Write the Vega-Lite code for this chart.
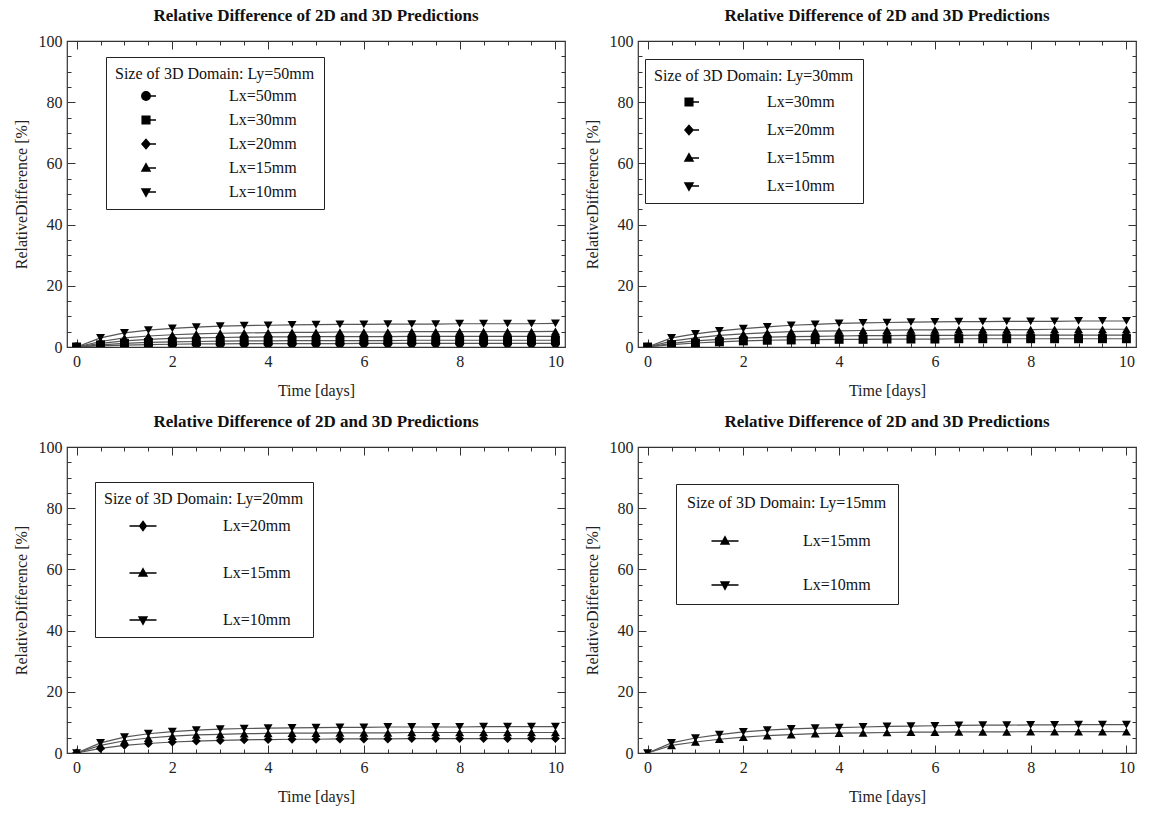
{
"$schema":"https://vega.github.io/schema/vega-lite/v6.json",
"background":"white",
"padding":{"left":12,"top":6,"right":5,"bottom":5},
"columns":2,
"spacing":{"column":73,"row":100},
"bounds":"flush",
"config":{
 "font":"Liberation Serif",
 "view":{"stroke":"#333","strokeWidth":1.2},
 "axis":{"labelFont":"Liberation Serif","labelFontSize":16,"labelColor":"#222","titleFont":"Liberation Serif","titleFontSize":16,"titleFontWeight":"normal","titleColor":"#222","domain":false,"grid":false,"tickColor":"#333","tickWidth":1,"labelOverlap":false,"labelFlush":false},
 "title":{"font":"Liberation Serif","fontSize":17,"fontWeight":"bold","color":"#111","offset":8},
 "legend":{"labelFont":"Liberation Serif","titleFont":"Liberation Serif","labelFontSize":16,"titleFontSize":16,"titleFontWeight":"normal","titleColor":"#111","labelColor":"#111","strokeColor":"#222","fillColor":"white","padding":9,"titleLimit":400,"labelLimit":300}
},
"datasets":{
"p1":[
{"t":0,"v":0,"s":"Lx=50mm"},{"t":0.5,"v":0.4,"s":"Lx=50mm"},{"t":1,"v":0.6,"s":"Lx=50mm"},{"t":1.5,"v":0.8,"s":"Lx=50mm"},{"t":2,"v":0.9,"s":"Lx=50mm"},{"t":2.5,"v":1.0,"s":"Lx=50mm"},{"t":3,"v":1.0,"s":"Lx=50mm"},{"t":3.5,"v":1.1,"s":"Lx=50mm"},{"t":4,"v":1.1,"s":"Lx=50mm"},{"t":4.5,"v":1.1,"s":"Lx=50mm"},{"t":5,"v":1.1,"s":"Lx=50mm"},{"t":5.5,"v":1.1,"s":"Lx=50mm"},{"t":6,"v":1.2,"s":"Lx=50mm"},{"t":6.5,"v":1.2,"s":"Lx=50mm"},{"t":7,"v":1.2,"s":"Lx=50mm"},{"t":7.5,"v":1.2,"s":"Lx=50mm"},{"t":8,"v":1.2,"s":"Lx=50mm"},{"t":8.5,"v":1.2,"s":"Lx=50mm"},{"t":9,"v":1.2,"s":"Lx=50mm"},{"t":9.5,"v":1.2,"s":"Lx=50mm"},{"t":10,"v":1.2,"s":"Lx=50mm"},
{"t":0,"v":0,"s":"Lx=30mm"},{"t":0.5,"v":0.7,"s":"Lx=30mm"},{"t":1,"v":1.2,"s":"Lx=30mm"},{"t":1.5,"v":1.5,"s":"Lx=30mm"},{"t":2,"v":1.7,"s":"Lx=30mm"},{"t":2.5,"v":1.8,"s":"Lx=30mm"},{"t":3,"v":1.9,"s":"Lx=30mm"},{"t":3.5,"v":2.0,"s":"Lx=30mm"},{"t":4,"v":2.0,"s":"Lx=30mm"},{"t":4.5,"v":2.1,"s":"Lx=30mm"},{"t":5,"v":2.1,"s":"Lx=30mm"},{"t":5.5,"v":2.1,"s":"Lx=30mm"},{"t":6,"v":2.1,"s":"Lx=30mm"},{"t":6.5,"v":2.1,"s":"Lx=30mm"},{"t":7,"v":2.2,"s":"Lx=30mm"},{"t":7.5,"v":2.2,"s":"Lx=30mm"},{"t":8,"v":2.2,"s":"Lx=30mm"},{"t":8.5,"v":2.2,"s":"Lx=30mm"},{"t":9,"v":2.2,"s":"Lx=30mm"},{"t":9.5,"v":2.2,"s":"Lx=30mm"},{"t":10,"v":2.2,"s":"Lx=30mm"},
{"t":0,"v":0,"s":"Lx=20mm"},{"t":0.5,"v":1.2,"s":"Lx=20mm"},{"t":1,"v":2.0,"s":"Lx=20mm"},{"t":1.5,"v":2.5,"s":"Lx=20mm"},{"t":2,"v":2.8,"s":"Lx=20mm"},{"t":2.5,"v":3.0,"s":"Lx=20mm"},{"t":3,"v":3.1,"s":"Lx=20mm"},{"t":3.5,"v":3.2,"s":"Lx=20mm"},{"t":4,"v":3.3,"s":"Lx=20mm"},{"t":4.5,"v":3.3,"s":"Lx=20mm"},{"t":5,"v":3.4,"s":"Lx=20mm"},{"t":5.5,"v":3.4,"s":"Lx=20mm"},{"t":6,"v":3.4,"s":"Lx=20mm"},{"t":6.5,"v":3.4,"s":"Lx=20mm"},{"t":7,"v":3.5,"s":"Lx=20mm"},{"t":7.5,"v":3.5,"s":"Lx=20mm"},{"t":8,"v":3.5,"s":"Lx=20mm"},{"t":8.5,"v":3.5,"s":"Lx=20mm"},{"t":9,"v":3.5,"s":"Lx=20mm"},{"t":9.5,"v":3.5,"s":"Lx=20mm"},{"t":10,"v":3.5,"s":"Lx=20mm"},
{"t":0,"v":0,"s":"Lx=15mm"},{"t":0.5,"v":1.8,"s":"Lx=15mm"},{"t":1,"v":3.0,"s":"Lx=15mm"},{"t":1.5,"v":3.6,"s":"Lx=15mm"},{"t":2,"v":4.0,"s":"Lx=15mm"},{"t":2.5,"v":4.3,"s":"Lx=15mm"},{"t":3,"v":4.5,"s":"Lx=15mm"},{"t":3.5,"v":4.6,"s":"Lx=15mm"},{"t":4,"v":4.7,"s":"Lx=15mm"},{"t":4.5,"v":4.8,"s":"Lx=15mm"},{"t":5,"v":4.8,"s":"Lx=15mm"},{"t":5.5,"v":4.9,"s":"Lx=15mm"},{"t":6,"v":4.9,"s":"Lx=15mm"},{"t":6.5,"v":4.9,"s":"Lx=15mm"},{"t":7,"v":5.0,"s":"Lx=15mm"},{"t":7.5,"v":5.0,"s":"Lx=15mm"},{"t":8,"v":5.0,"s":"Lx=15mm"},{"t":8.5,"v":5.0,"s":"Lx=15mm"},{"t":9,"v":5.0,"s":"Lx=15mm"},{"t":9.5,"v":5.0,"s":"Lx=15mm"},{"t":10,"v":5.1,"s":"Lx=15mm"},
{"t":0,"v":0,"s":"Lx=10mm"},{"t":0.5,"v":3.0,"s":"Lx=10mm"},{"t":1,"v":4.6,"s":"Lx=10mm"},{"t":1.5,"v":5.5,"s":"Lx=10mm"},{"t":2,"v":6.1,"s":"Lx=10mm"},{"t":2.5,"v":6.5,"s":"Lx=10mm"},{"t":3,"v":6.8,"s":"Lx=10mm"},{"t":3.5,"v":7.0,"s":"Lx=10mm"},{"t":4,"v":7.1,"s":"Lx=10mm"},{"t":4.5,"v":7.2,"s":"Lx=10mm"},{"t":5,"v":7.3,"s":"Lx=10mm"},{"t":5.5,"v":7.4,"s":"Lx=10mm"},{"t":6,"v":7.4,"s":"Lx=10mm"},{"t":6.5,"v":7.5,"s":"Lx=10mm"},{"t":7,"v":7.5,"s":"Lx=10mm"},{"t":7.5,"v":7.5,"s":"Lx=10mm"},{"t":8,"v":7.6,"s":"Lx=10mm"},{"t":8.5,"v":7.6,"s":"Lx=10mm"},{"t":9,"v":7.6,"s":"Lx=10mm"},{"t":9.5,"v":7.6,"s":"Lx=10mm"},{"t":10,"v":7.7,"s":"Lx=10mm"}
],
"p2":[
{"t":0,"v":0,"s":"Lx=30mm"},{"t":0.5,"v":0.8,"s":"Lx=30mm"},{"t":1,"v":1.3,"s":"Lx=30mm"},{"t":1.5,"v":1.7,"s":"Lx=30mm"},{"t":2,"v":2.0,"s":"Lx=30mm"},{"t":2.5,"v":2.2,"s":"Lx=30mm"},{"t":3,"v":2.3,"s":"Lx=30mm"},{"t":3.5,"v":2.4,"s":"Lx=30mm"},{"t":4,"v":2.5,"s":"Lx=30mm"},{"t":4.5,"v":2.5,"s":"Lx=30mm"},{"t":5,"v":2.6,"s":"Lx=30mm"},{"t":5.5,"v":2.6,"s":"Lx=30mm"},{"t":6,"v":2.6,"s":"Lx=30mm"},{"t":6.5,"v":2.7,"s":"Lx=30mm"},{"t":7,"v":2.7,"s":"Lx=30mm"},{"t":7.5,"v":2.7,"s":"Lx=30mm"},{"t":8,"v":2.7,"s":"Lx=30mm"},{"t":8.5,"v":2.7,"s":"Lx=30mm"},{"t":9,"v":2.7,"s":"Lx=30mm"},{"t":9.5,"v":2.7,"s":"Lx=30mm"},{"t":10,"v":2.7,"s":"Lx=30mm"},
{"t":0,"v":0,"s":"Lx=20mm"},{"t":0.5,"v":1.2,"s":"Lx=20mm"},{"t":1,"v":2.0,"s":"Lx=20mm"},{"t":1.5,"v":2.5,"s":"Lx=20mm"},{"t":2,"v":2.9,"s":"Lx=20mm"},{"t":2.5,"v":3.2,"s":"Lx=20mm"},{"t":3,"v":3.4,"s":"Lx=20mm"},{"t":3.5,"v":3.5,"s":"Lx=20mm"},{"t":4,"v":3.6,"s":"Lx=20mm"},{"t":4.5,"v":3.7,"s":"Lx=20mm"},{"t":5,"v":3.7,"s":"Lx=20mm"},{"t":5.5,"v":3.8,"s":"Lx=20mm"},{"t":6,"v":3.8,"s":"Lx=20mm"},{"t":6.5,"v":3.8,"s":"Lx=20mm"},{"t":7,"v":3.9,"s":"Lx=20mm"},{"t":7.5,"v":3.9,"s":"Lx=20mm"},{"t":8,"v":3.9,"s":"Lx=20mm"},{"t":8.5,"v":3.9,"s":"Lx=20mm"},{"t":9,"v":3.9,"s":"Lx=20mm"},{"t":9.5,"v":3.9,"s":"Lx=20mm"},{"t":10,"v":3.9,"s":"Lx=20mm"},
{"t":0,"v":0,"s":"Lx=15mm"},{"t":0.5,"v":1.9,"s":"Lx=15mm"},{"t":1,"v":3.0,"s":"Lx=15mm"},{"t":1.5,"v":3.8,"s":"Lx=15mm"},{"t":2,"v":4.3,"s":"Lx=15mm"},{"t":2.5,"v":4.7,"s":"Lx=15mm"},{"t":3,"v":5.0,"s":"Lx=15mm"},{"t":3.5,"v":5.2,"s":"Lx=15mm"},{"t":4,"v":5.3,"s":"Lx=15mm"},{"t":4.5,"v":5.4,"s":"Lx=15mm"},{"t":5,"v":5.5,"s":"Lx=15mm"},{"t":5.5,"v":5.6,"s":"Lx=15mm"},{"t":6,"v":5.6,"s":"Lx=15mm"},{"t":6.5,"v":5.7,"s":"Lx=15mm"},{"t":7,"v":5.7,"s":"Lx=15mm"},{"t":7.5,"v":5.7,"s":"Lx=15mm"},{"t":8,"v":5.7,"s":"Lx=15mm"},{"t":8.5,"v":5.8,"s":"Lx=15mm"},{"t":9,"v":5.8,"s":"Lx=15mm"},{"t":9.5,"v":5.8,"s":"Lx=15mm"},{"t":10,"v":5.8,"s":"Lx=15mm"},
{"t":0,"v":0,"s":"Lx=10mm"},{"t":0.5,"v":3.0,"s":"Lx=10mm"},{"t":1,"v":4.3,"s":"Lx=10mm"},{"t":1.5,"v":5.3,"s":"Lx=10mm"},{"t":2,"v":6.0,"s":"Lx=10mm"},{"t":2.5,"v":6.6,"s":"Lx=10mm"},{"t":3,"v":7.1,"s":"Lx=10mm"},{"t":3.5,"v":7.4,"s":"Lx=10mm"},{"t":4,"v":7.7,"s":"Lx=10mm"},{"t":4.5,"v":7.9,"s":"Lx=10mm"},{"t":5,"v":8.0,"s":"Lx=10mm"},{"t":5.5,"v":8.1,"s":"Lx=10mm"},{"t":6,"v":8.2,"s":"Lx=10mm"},{"t":6.5,"v":8.3,"s":"Lx=10mm"},{"t":7,"v":8.3,"s":"Lx=10mm"},{"t":7.5,"v":8.4,"s":"Lx=10mm"},{"t":8,"v":8.4,"s":"Lx=10mm"},{"t":8.5,"v":8.4,"s":"Lx=10mm"},{"t":9,"v":8.5,"s":"Lx=10mm"},{"t":9.5,"v":8.5,"s":"Lx=10mm"},{"t":10,"v":8.5,"s":"Lx=10mm"}
],
"p3":[
{"t":0,"v":0,"s":"Lx=20mm"},{"t":0.5,"v":1.5,"s":"Lx=20mm"},{"t":1,"v":2.5,"s":"Lx=20mm"},{"t":1.5,"v":3.1,"s":"Lx=20mm"},{"t":2,"v":3.6,"s":"Lx=20mm"},{"t":2.5,"v":3.9,"s":"Lx=20mm"},{"t":3,"v":4.1,"s":"Lx=20mm"},{"t":3.5,"v":4.3,"s":"Lx=20mm"},{"t":4,"v":4.4,"s":"Lx=20mm"},{"t":4.5,"v":4.5,"s":"Lx=20mm"},{"t":5,"v":4.5,"s":"Lx=20mm"},{"t":5.5,"v":4.6,"s":"Lx=20mm"},{"t":6,"v":4.6,"s":"Lx=20mm"},{"t":6.5,"v":4.6,"s":"Lx=20mm"},{"t":7,"v":4.7,"s":"Lx=20mm"},{"t":7.5,"v":4.7,"s":"Lx=20mm"},{"t":8,"v":4.7,"s":"Lx=20mm"},{"t":8.5,"v":4.7,"s":"Lx=20mm"},{"t":9,"v":4.7,"s":"Lx=20mm"},{"t":9.5,"v":4.7,"s":"Lx=20mm"},{"t":10,"v":4.7,"s":"Lx=20mm"},
{"t":0,"v":0,"s":"Lx=15mm"},{"t":0.5,"v":2.5,"s":"Lx=15mm"},{"t":1,"v":4.0,"s":"Lx=15mm"},{"t":1.5,"v":4.9,"s":"Lx=15mm"},{"t":2,"v":5.5,"s":"Lx=15mm"},{"t":2.5,"v":5.9,"s":"Lx=15mm"},{"t":3,"v":6.1,"s":"Lx=15mm"},{"t":3.5,"v":6.3,"s":"Lx=15mm"},{"t":4,"v":6.4,"s":"Lx=15mm"},{"t":4.5,"v":6.5,"s":"Lx=15mm"},{"t":5,"v":6.5,"s":"Lx=15mm"},{"t":5.5,"v":6.6,"s":"Lx=15mm"},{"t":6,"v":6.6,"s":"Lx=15mm"},{"t":6.5,"v":6.6,"s":"Lx=15mm"},{"t":7,"v":6.7,"s":"Lx=15mm"},{"t":7.5,"v":6.7,"s":"Lx=15mm"},{"t":8,"v":6.7,"s":"Lx=15mm"},{"t":8.5,"v":6.7,"s":"Lx=15mm"},{"t":9,"v":6.7,"s":"Lx=15mm"},{"t":9.5,"v":6.7,"s":"Lx=15mm"},{"t":10,"v":6.7,"s":"Lx=15mm"},
{"t":0,"v":0,"s":"Lx=10mm"},{"t":0.5,"v":3.3,"s":"Lx=10mm"},{"t":1,"v":5.2,"s":"Lx=10mm"},{"t":1.5,"v":6.3,"s":"Lx=10mm"},{"t":2,"v":7.0,"s":"Lx=10mm"},{"t":2.5,"v":7.5,"s":"Lx=10mm"},{"t":3,"v":7.8,"s":"Lx=10mm"},{"t":3.5,"v":8.0,"s":"Lx=10mm"},{"t":4,"v":8.1,"s":"Lx=10mm"},{"t":4.5,"v":8.2,"s":"Lx=10mm"},{"t":5,"v":8.3,"s":"Lx=10mm"},{"t":5.5,"v":8.4,"s":"Lx=10mm"},{"t":6,"v":8.4,"s":"Lx=10mm"},{"t":6.5,"v":8.5,"s":"Lx=10mm"},{"t":7,"v":8.5,"s":"Lx=10mm"},{"t":7.5,"v":8.5,"s":"Lx=10mm"},{"t":8,"v":8.5,"s":"Lx=10mm"},{"t":8.5,"v":8.6,"s":"Lx=10mm"},{"t":9,"v":8.6,"s":"Lx=10mm"},{"t":9.5,"v":8.6,"s":"Lx=10mm"},{"t":10,"v":8.6,"s":"Lx=10mm"}
],
"p4":[
{"t":0,"v":0,"s":"Lx=15mm"},{"t":0.5,"v":2.5,"s":"Lx=15mm"},{"t":1,"v":3.6,"s":"Lx=15mm"},{"t":1.5,"v":4.5,"s":"Lx=15mm"},{"t":2,"v":5.2,"s":"Lx=15mm"},{"t":2.5,"v":5.7,"s":"Lx=15mm"},{"t":3,"v":6.0,"s":"Lx=15mm"},{"t":3.5,"v":6.3,"s":"Lx=15mm"},{"t":4,"v":6.5,"s":"Lx=15mm"},{"t":4.5,"v":6.6,"s":"Lx=15mm"},{"t":5,"v":6.7,"s":"Lx=15mm"},{"t":5.5,"v":6.8,"s":"Lx=15mm"},{"t":6,"v":6.8,"s":"Lx=15mm"},{"t":6.5,"v":6.9,"s":"Lx=15mm"},{"t":7,"v":6.9,"s":"Lx=15mm"},{"t":7.5,"v":6.9,"s":"Lx=15mm"},{"t":8,"v":7.0,"s":"Lx=15mm"},{"t":8.5,"v":7.0,"s":"Lx=15mm"},{"t":9,"v":7.0,"s":"Lx=15mm"},{"t":9.5,"v":7.0,"s":"Lx=15mm"},{"t":10,"v":7.0,"s":"Lx=15mm"},
{"t":0,"v":0,"s":"Lx=10mm"},{"t":0.5,"v":3.3,"s":"Lx=10mm"},{"t":1,"v":4.9,"s":"Lx=10mm"},{"t":1.5,"v":6.0,"s":"Lx=10mm"},{"t":2,"v":6.9,"s":"Lx=10mm"},{"t":2.5,"v":7.5,"s":"Lx=10mm"},{"t":3,"v":7.9,"s":"Lx=10mm"},{"t":3.5,"v":8.1,"s":"Lx=10mm"},{"t":4,"v":8.3,"s":"Lx=10mm"},{"t":4.5,"v":8.5,"s":"Lx=10mm"},{"t":5,"v":8.7,"s":"Lx=10mm"},{"t":5.5,"v":8.8,"s":"Lx=10mm"},{"t":6,"v":8.9,"s":"Lx=10mm"},{"t":6.5,"v":9.0,"s":"Lx=10mm"},{"t":7,"v":9.1,"s":"Lx=10mm"},{"t":7.5,"v":9.1,"s":"Lx=10mm"},{"t":8,"v":9.2,"s":"Lx=10mm"},{"t":8.5,"v":9.2,"s":"Lx=10mm"},{"t":9,"v":9.3,"s":"Lx=10mm"},{"t":9.5,"v":9.3,"s":"Lx=10mm"},{"t":10,"v":9.3,"s":"Lx=10mm"}
]
},
"concat":[
{
 "title":"Relative Difference of 2D and 3D Predictions",
 "width":498,"height":306,
 "data":{"name":"p1"},
 "layer":[
  {"mark":{"type":"line","color":"#555","strokeWidth":1.2,"clip":true},
   "encoding":{
    "x":{"field":"t","type":"quantitative","scale":{"domain":[-0.2,10.2],"nice":false,"zero":false},"axis":{"orient":"bottom","title":"Time [days]","values":[0,0.5,1,1.5,2,2.5,3,3.5,4,4.5,5,5.5,6,6.5,7,7.5,8,8.5,9,9.5,10],"labelExpr":"datum.value % 2 === 0 ? format(datum.value, 'd') : ''","tickSize":{"condition":{"test":"datum.value % 2 === 0","value":-8},"value":-4},"labelPadding":14,"titlePadding":9}},
    "y":{"field":"v","type":"quantitative","scale":{"domain":[0,100],"nice":false},"axis":{"orient":"left","title":"RelativeDifference [%]","values":[0,5,10,15,20,25,30,35,40,45,50,55,60,65,70,75,80,85,90,95,100],"labelExpr":"datum.value % 20 === 0 ? datum.label : ''","tickSize":{"condition":{"test":"datum.value % 20 === 0","value":-8},"value":-4},"labelPadding":13,"titlePadding":9}},
    "detail":{"field":"s","type":"nominal"}}},
  {"mark":{"type":"point","filled":true,"color":"black","opacity":1,"size":80,"clip":true},
   "encoding":{
    "x":{"field":"t","type":"quantitative","axis":null},
    "y":{"field":"v","type":"quantitative","axis":null},
    "shape":{"field":"s","type":"nominal","scale":{"domain":["Lx=50mm","Lx=30mm","Lx=20mm","Lx=15mm","Lx=10mm"],"range":["circle","square","diamond","triangle-up","triangle-down"]},"legend":null}}},
  {"transform":[{"filter":"false"}],
   "mark":{"type":"point","filled":true,"fill":"black","stroke":"black","strokeWidth":1,"opacity":1},
   "encoding":{
    "x":{"field":"t","type":"quantitative","axis":{"orient":"top","title":null,"labels":false,"values":[0,0.5,1,1.5,2,2.5,3,3.5,4,4.5,5,5.5,6,6.5,7,7.5,8,8.5,9,9.5,10],"tickSize":{"condition":{"test":"datum.value % 2 === 0","value":-8},"value":-4}}},
    "y":{"field":"v","type":"quantitative","axis":{"orient":"right","title":null,"labels":false,"values":[0,5,10,15,20,25,30,35,40,45,50,55,60,65,70,75,80,85,90,95,100],"tickSize":{"condition":{"test":"datum.value % 20 === 0","value":-8},"value":-4}}},
    "shape":{"field":"s","type":"nominal","scale":{"domain":["Lx=50mm","Lx=30mm","Lx=20mm","Lx=15mm","Lx=10mm"],"range":["M-0.92,0A0.42,0.42,0,1,1,-0.08,0A0.42,0.42,0,1,1,-0.92,0ZM-0.5,0L0.5,0","M-0.88,-0.38H-0.12V0.38H-0.88ZM-0.5,0L0.5,0","M-0.5,-0.45L-0.1,0L-0.5,0.45L-0.9,0ZM-0.5,0L0.5,0","M-0.5,-0.42L-0.1,0.3L-0.9,0.3ZM-0.5,0L0.5,0","M-0.5,0.42L-0.1,-0.3L-0.9,-0.3ZM-0.5,0L0.5,0"]},
     "legend":{"title":"Size of 3D Domain: Ly=50mm","orient":"none","legendX":39,"legendY":16,"symbolSize":400,"symbolOffset":25,"labelOffset":67,"rowPadding":5,"titlePadding":3,
      "encode":{"symbols":{"update":{"fill":{"value":"black"},"stroke":{"value":"#222"},"strokeWidth":{"value":1.2},"opacity":{"value":1}}}}}}}}
 ],
 "resolve":{"scale":{"shape":"independent"},"axis":{"x":"independent","y":"independent"}}
},
{
 "title":"Relative Difference of 2D and 3D Predictions",
 "width":498,"height":306,
 "data":{"name":"p2"},
 "layer":[
  {"mark":{"type":"line","color":"#555","strokeWidth":1.2,"clip":true},
   "encoding":{
    "x":{"field":"t","type":"quantitative","scale":{"domain":[-0.2,10.2],"nice":false,"zero":false},"axis":{"orient":"bottom","title":"Time [days]","values":[0,0.5,1,1.5,2,2.5,3,3.5,4,4.5,5,5.5,6,6.5,7,7.5,8,8.5,9,9.5,10],"labelExpr":"datum.value % 2 === 0 ? format(datum.value, 'd') : ''","tickSize":{"condition":{"test":"datum.value % 2 === 0","value":-8},"value":-4},"labelPadding":14,"titlePadding":9}},
    "y":{"field":"v","type":"quantitative","scale":{"domain":[0,100],"nice":false},"axis":{"orient":"left","title":"RelativeDifference [%]","values":[0,5,10,15,20,25,30,35,40,45,50,55,60,65,70,75,80,85,90,95,100],"labelExpr":"datum.value % 20 === 0 ? datum.label : ''","tickSize":{"condition":{"test":"datum.value % 20 === 0","value":-8},"value":-4},"labelPadding":13,"titlePadding":9}},
    "detail":{"field":"s","type":"nominal"}}},
  {"mark":{"type":"point","filled":true,"color":"black","opacity":1,"size":80,"clip":true},
   "encoding":{
    "x":{"field":"t","type":"quantitative","axis":null},
    "y":{"field":"v","type":"quantitative","axis":null},
    "shape":{"field":"s","type":"nominal","scale":{"domain":["Lx=30mm","Lx=20mm","Lx=15mm","Lx=10mm"],"range":["square","diamond","triangle-up","triangle-down"]},"legend":null}}},
  {"transform":[{"filter":"false"}],
   "mark":{"type":"point","filled":true,"fill":"black","stroke":"black","strokeWidth":1,"opacity":1},
   "encoding":{
    "x":{"field":"t","type":"quantitative","axis":{"orient":"top","title":null,"labels":false,"values":[0,0.5,1,1.5,2,2.5,3,3.5,4,4.5,5,5.5,6,6.5,7,7.5,8,8.5,9,9.5,10],"tickSize":{"condition":{"test":"datum.value % 2 === 0","value":-8},"value":-4}}},
    "y":{"field":"v","type":"quantitative","axis":{"orient":"right","title":null,"labels":false,"values":[0,5,10,15,20,25,30,35,40,45,50,55,60,65,70,75,80,85,90,95,100],"tickSize":{"condition":{"test":"datum.value % 20 === 0","value":-8},"value":-4}}},
    "shape":{"field":"s","type":"nominal","scale":{"domain":["Lx=30mm","Lx=20mm","Lx=15mm","Lx=10mm"],"range":["M-0.88,-0.38H-0.12V0.38H-0.88ZM-0.5,0L0.5,0","M-0.5,-0.45L-0.1,0L-0.5,0.45L-0.9,0ZM-0.5,0L0.5,0","M-0.5,-0.42L-0.1,0.3L-0.9,0.3ZM-0.5,0L0.5,0","M-0.5,0.42L-0.1,-0.3L-0.9,-0.3ZM-0.5,0L0.5,0"]},
     "legend":{"title":"Size of 3D Domain: Ly=30mm","orient":"none","legendX":7,"legendY":18,"symbolSize":400,"symbolOffset":29,"labelOffset":62,"rowPadding":9,"titlePadding":7,
      "encode":{"symbols":{"update":{"fill":{"value":"black"},"stroke":{"value":"#222"},"strokeWidth":{"value":1.2},"opacity":{"value":1}}}}}}}}
 ],
 "resolve":{"scale":{"shape":"independent"},"axis":{"x":"independent","y":"independent"}}
},
{
 "title":"Relative Difference of 2D and 3D Predictions",
 "width":498,"height":306,
 "data":{"name":"p3"},
 "layer":[
  {"mark":{"type":"line","color":"#555","strokeWidth":1.2,"clip":true},
   "encoding":{
    "x":{"field":"t","type":"quantitative","scale":{"domain":[-0.2,10.2],"nice":false,"zero":false},"axis":{"orient":"bottom","title":"Time [days]","values":[0,0.5,1,1.5,2,2.5,3,3.5,4,4.5,5,5.5,6,6.5,7,7.5,8,8.5,9,9.5,10],"labelExpr":"datum.value % 2 === 0 ? format(datum.value, 'd') : ''","tickSize":{"condition":{"test":"datum.value % 2 === 0","value":-8},"value":-4},"labelPadding":14,"titlePadding":9}},
    "y":{"field":"v","type":"quantitative","scale":{"domain":[0,100],"nice":false},"axis":{"orient":"left","title":"RelativeDifference [%]","values":[0,5,10,15,20,25,30,35,40,45,50,55,60,65,70,75,80,85,90,95,100],"labelExpr":"datum.value % 20 === 0 ? datum.label : ''","tickSize":{"condition":{"test":"datum.value % 20 === 0","value":-8},"value":-4},"labelPadding":13,"titlePadding":9}},
    "detail":{"field":"s","type":"nominal"}}},
  {"mark":{"type":"point","filled":true,"color":"black","opacity":1,"size":80,"clip":true},
   "encoding":{
    "x":{"field":"t","type":"quantitative","axis":null},
    "y":{"field":"v","type":"quantitative","axis":null},
    "shape":{"field":"s","type":"nominal","scale":{"domain":["Lx=20mm","Lx=15mm","Lx=10mm"],"range":["diamond","triangle-up","triangle-down"]},"legend":null}}},
  {"transform":[{"filter":"false"}],
   "mark":{"type":"point","filled":true,"fill":"black","stroke":"black","strokeWidth":1,"opacity":1},
   "encoding":{
    "x":{"field":"t","type":"quantitative","axis":{"orient":"top","title":null,"labels":false,"values":[0,0.5,1,1.5,2,2.5,3,3.5,4,4.5,5,5.5,6,6.5,7,7.5,8,8.5,9,9.5,10],"tickSize":{"condition":{"test":"datum.value % 2 === 0","value":-8},"value":-4}}},
    "y":{"field":"v","type":"quantitative","axis":{"orient":"right","title":null,"labels":false,"values":[0,5,10,15,20,25,30,35,40,45,50,55,60,65,70,75,80,85,90,95,100],"tickSize":{"condition":{"test":"datum.value % 20 === 0","value":-8},"value":-4}}},
    "shape":{"field":"s","type":"nominal","scale":{"domain":["Lx=20mm","Lx=15mm","Lx=10mm"],"range":["M0,-0.3L0.22,0L0,0.3L-0.22,0ZM-0.9,0L0.9,0","M0,-0.28L0.26,0.2L-0.26,0.2ZM-0.9,0L0.9,0","M0,0.28L0.26,-0.2L-0.26,-0.2ZM-0.9,0L0.9,0"]},
     "legend":{"title":"Size of 3D Domain: Ly=20mm","orient":"none","legendX":28,"legendY":35,"symbolSize":900,"symbolOffset":23,"labelOffset":64,"rowPadding":23,"titlePadding":3,
      "encode":{"symbols":{"update":{"fill":{"value":"black"},"stroke":{"value":"#222"},"strokeWidth":{"value":1.2},"opacity":{"value":1}}}}}}}}
 ],
 "resolve":{"scale":{"shape":"independent"},"axis":{"x":"independent","y":"independent"}}
},
{
 "title":"Relative Difference of 2D and 3D Predictions",
 "width":498,"height":306,
 "data":{"name":"p4"},
 "layer":[
  {"mark":{"type":"line","color":"#555","strokeWidth":1.2,"clip":true},
   "encoding":{
    "x":{"field":"t","type":"quantitative","scale":{"domain":[-0.2,10.2],"nice":false,"zero":false},"axis":{"orient":"bottom","title":"Time [days]","values":[0,0.5,1,1.5,2,2.5,3,3.5,4,4.5,5,5.5,6,6.5,7,7.5,8,8.5,9,9.5,10],"labelExpr":"datum.value % 2 === 0 ? format(datum.value, 'd') : ''","tickSize":{"condition":{"test":"datum.value % 2 === 0","value":-8},"value":-4},"labelPadding":14,"titlePadding":9}},
    "y":{"field":"v","type":"quantitative","scale":{"domain":[0,100],"nice":false},"axis":{"orient":"left","title":"RelativeDifference [%]","values":[0,5,10,15,20,25,30,35,40,45,50,55,60,65,70,75,80,85,90,95,100],"labelExpr":"datum.value % 20 === 0 ? datum.label : ''","tickSize":{"condition":{"test":"datum.value % 20 === 0","value":-8},"value":-4},"labelPadding":13,"titlePadding":9}},
    "detail":{"field":"s","type":"nominal"}}},
  {"mark":{"type":"point","filled":true,"color":"black","opacity":1,"size":80,"clip":true},
   "encoding":{
    "x":{"field":"t","type":"quantitative","axis":null},
    "y":{"field":"v","type":"quantitative","axis":null},
    "shape":{"field":"s","type":"nominal","scale":{"domain":["Lx=15mm","Lx=10mm"],"range":["triangle-up","triangle-down"]},"legend":null}}},
  {"transform":[{"filter":"false"}],
   "mark":{"type":"point","filled":true,"fill":"black","stroke":"black","strokeWidth":1,"opacity":1},
   "encoding":{
    "x":{"field":"t","type":"quantitative","axis":{"orient":"top","title":null,"labels":false,"values":[0,0.5,1,1.5,2,2.5,3,3.5,4,4.5,5,5.5,6,6.5,7,7.5,8,8.5,9,9.5,10],"tickSize":{"condition":{"test":"datum.value % 2 === 0","value":-8},"value":-4}}},
    "y":{"field":"v","type":"quantitative","axis":{"orient":"right","title":null,"labels":false,"values":[0,5,10,15,20,25,30,35,40,45,50,55,60,65,70,75,80,85,90,95,100],"tickSize":{"condition":{"test":"datum.value % 20 === 0","value":-8},"value":-4}}},
    "shape":{"field":"s","type":"nominal","scale":{"domain":["Lx=15mm","Lx=10mm"],"range":["M0,-0.28L0.26,0.2L-0.26,0.2ZM-0.9,0L0.9,0","M0,0.28L0.26,-0.2L-0.26,-0.2ZM-0.9,0L0.9,0"]},
     "legend":{"title":"Size of 3D Domain: Ly=15mm","orient":"none","legendX":38,"legendY":37,"padding":11,"symbolSize":900,"symbolOffset":22,"labelOffset":62,"rowPadding":20,"titlePadding":14,
      "encode":{"symbols":{"update":{"fill":{"value":"black"},"stroke":{"value":"#222"},"strokeWidth":{"value":1.2},"opacity":{"value":1}}}}}}}}
 ],
 "resolve":{"scale":{"shape":"independent"},"axis":{"x":"independent","y":"independent"}}
}
]
}
